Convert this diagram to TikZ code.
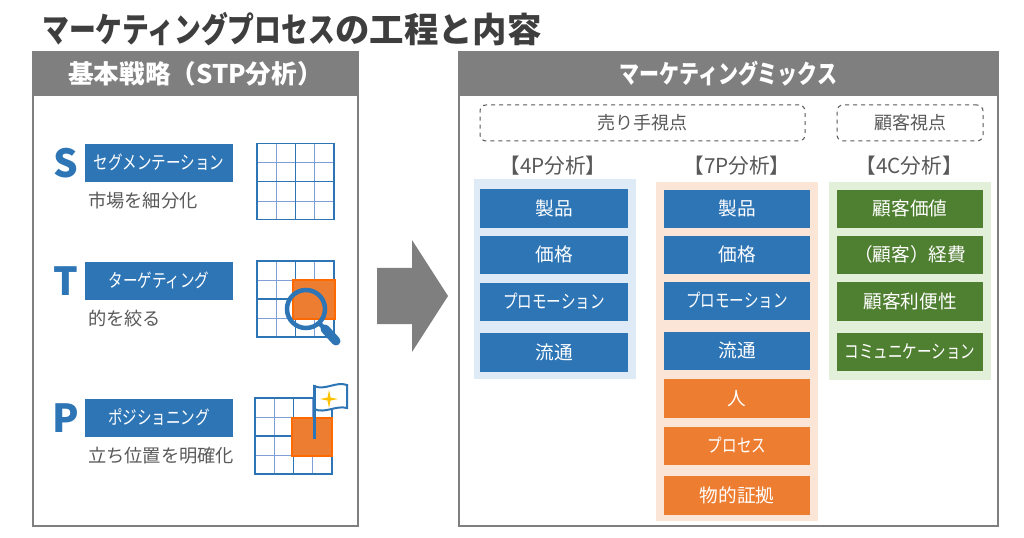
\documentclass[tikz,border=0pt]{standalone}
\usepackage{fontspec}
\setmainfont{Noto Sans CJK JP}
\newfontfamily\kanafont[FakeStretch=0.78]{Noto Sans CJK JP}
\newcommand{\kana}[1]{{\kanafont #1}}

\definecolor{headgray}{HTML}{7F7F7F}
\definecolor{textgray}{HTML}{595959}
\definecolor{mixblue}{HTML}{2E75B6}
\definecolor{mixorange}{HTML}{ED7D31}
\definecolor{markorange}{HTML}{FF6A00}
\definecolor{mixgreen}{HTML}{4F7F30}
\definecolor{paleblue}{HTML}{DEEAF6}
\definecolor{paleorange}{HTML}{FBE5D6}
\definecolor{palegreen}{HTML}{E2F0D9}
\definecolor{gridlight}{HTML}{7F9FD6}
\definecolor{flagstar}{HTML}{FFC000}

\def\px{0.75pt}

\tikzset{
	panel/.style = {draw = headgray, line width = 2 * \px, fill = white, inner sep = 0},
	head/.style = {fill = headgray, text = white, inner sep = 0, font = \fontsize{19.2}{23}\selectfont\bfseries,
		minimum height = 44 * \px, text height = 17 pt, text depth = 2.5 pt},
	item/.style = {text = white, inner sep = 0, font = \fontsize{14}{16}\selectfont,
		minimum height = 38.5 * \px, text height = 12 pt, text depth = 2 pt},
	band/.style = {inner sep = 0},
	view/.style = {draw = textgray, dashed, rounded corners = 6 * \px, line width = 1 * \px, text = textgray,
		inner sep = 0, minimum height = 36 * \px, text height = 12 pt, text depth = 2 pt, font = \fontsize{13.5}{16}\selectfont},
	note/.style = {text = textgray, inner sep = 0, font = \fontsize{13.7}{16}\selectfont},
	coltitle/.style = {text = textgray, inner sep = 0, font = \fontsize{15.5}{18}\selectfont},
	initial/.style = {text = mixblue, inner sep = 0, font = \fontsize{29}{34}\selectfont\bfseries},
	hilite/.style = {fill = mixorange, draw = markorange, line width = 1.5 * \px},
}

\begin{document}
\begin{tikzpicture}[x = 0.75 pt, y = -0.75 pt]

	\useasboundingbox (0, 0) rectangle (1024, 538);

	% Title

	\node [anchor = west, inner sep = 0, text = textgray!70!black, font = \fontsize{25.8}{30}\selectfont\bfseries] (title) at (42, 29)
		{\kana{マーケティングプロセス}の工程と内容};

	% Panels

	\node [panel, minimum width = 325 * \px, minimum height = 474 * \px] (stp-panel) at (195.5, 289) {};
	\node [panel, minimum width = 539 * \px, minimum height = 474 * \px] (mix-panel) at (728.5, 289) {};
	\node [head, minimum width = 325 * \px] (stp-head) at (195.5, 74) {基本戦略（STP分析）};
	\node [head, minimum width = 539 * \px] (mix-head) at (728.5, 74) {\kana{マーケティングミックス}};

	% Left column

	\foreach \name/\y/\letter/\term/\desc in {
		seg/163/S/セグメンテーション/市場を細分化,
		tgt/281/T/ターゲティング/的を絞る,
		pos/418/P/ポジショニング/立ち位置を明確化}
	{
		\node [initial] (\name-letter) at (65.5, \y) {\letter};
		\node [item, fill = mixblue, minimum width = 148 * \px] (\name-box) at (159, \y) {\kana{\term}};
		\node [note, anchor = north west] (\name-note) at ([xshift = 3 * \px, yshift = -9.5 * \px] \name-box.south west) {\desc};
	}

	% Grids

	\foreach \gx/\gy in {257/143.5, 257/261, 255/398}
	{
		\foreach \k in {19.25, 57.75}
		{
			\draw [gridlight, line width = 1.2 * \px] (\gx + \k, \gy) -- (\gx + \k, \gy + 76);
			\draw [gridlight, line width = 1.2 * \px] (\gx, \gy + \k) -- (\gx + 77, \gy + \k);
		}
		\draw [mixblue, line width = 1.5 * \px] (\gx + 38.5, \gy) -- (\gx + 38.5, \gy + 76);
		\draw [mixblue, line width = 1.5 * \px] (\gx, \gy + 38) -- (\gx + 77, \gy + 38);
		\draw [mixblue, line width = 1.5 * \px] (\gx, \gy) rectangle (\gx + 77, \gy + 76);
	}

	% Magnifier

	\draw [hilite] (293, 280) rectangle (335, 319);
	\draw [mixblue, line width = 4.5 * \px] (306, 309) circle (19);
	\draw [mixblue, line width = 4.5 * \px] (319, 323) -- (324, 328);
	\draw [mixblue, line width = 9 * \px, line cap = round] (325, 329) -- (336, 341);

	% Flag

	\draw [hilite] (292, 418) rectangle (332, 456);
	\draw [mixblue, line width = 2 * \px, fill = white] (314, 386) .. controls (325, 391) and (336, 381) .. (347, 385)
		-- (347, 408) .. controls (336, 405) and (325, 414) .. (314, 409) -- cycle;
	\draw [mixblue, line width = 3 * \px] (314, 385) -- (314, 439);
	\fill [flagstar] (329, 390) -- (330.5, 397.5) -- (338, 399) -- (330.5, 400.5) -- (329, 408)
		-- (327.5, 400.5) -- (320, 399) -- (327.5, 397.5) -- cycle;

	% Big arrow

	\fill [headgray] (377, 268) -- (412, 268) -- (412, 240) -- (448, 296) -- (412, 352) -- (412, 324) -- (377, 324) -- cycle;

	% Viewpoints

	\node [view, minimum width = 325 * \px] (seller) at (642.5, 123) {売り手視点};
	\node [view, minimum width = 146 * \px] (buyer) at (910, 123) {顧客視点};

	% Column titles

	\node [coltitle] (label-4p) at (553, 166) {【4P分析】};
	\node [coltitle] (label-7p) at (737, 166) {【7P分析】};
	\node [coltitle] (label-4c) at (909, 166) {【4C分析】};

	% Column backgrounds

	\node [band, fill = paleblue, minimum width = 162 * \px, minimum height = 200 * \px] (band-4p) at (555, 279) {};
	\node [band, fill = paleorange, minimum width = 162 * \px, minimum height = 339 * \px] (band-7p) at (737, 351.5) {};
	\node [band, fill = palegreen, minimum width = 162 * \px, minimum height = 198 * \px] (band-4c) at (910, 281) {};

	% Boxes

	\foreach \i/\y/\lab in {1/208.5/製品, 2/255/価格, 3/302/\kana{プロモーション}, 4/352.5/流通}
		\node [item, fill = mixblue, minimum width = 148 * \px] (fourp-\i) at (554, \y) {\lab};

	\foreach \i/\y/\lab in {1/209/製品, 2/255/価格, 3/301/\kana{プロモーション}, 4/351/流通}
		\node [item, fill = mixblue, minimum width = 146 * \px] (sevenp-\i) at (737, \y) {\lab};

	\foreach \i/\y/\lab in {5/398.5/人, 6/446/\kana{プロセス}, 7/495.5/物的証拠}
		\node [item, fill = mixorange, minimum width = 146 * \px] (sevenp-\i) at (737, \y) {\lab};

	\foreach \i/\y/\lab in {1/209/顧客価値, 2/255/（顧客）経費, 3/301.5/顧客利便性, 4/352/\kana{コミュニケーション}}
		\node [item, fill = mixgreen, minimum width = 146 * \px] (fourc-\i) at (910, \y) {\lab};

\end{tikzpicture}
\end{document}
